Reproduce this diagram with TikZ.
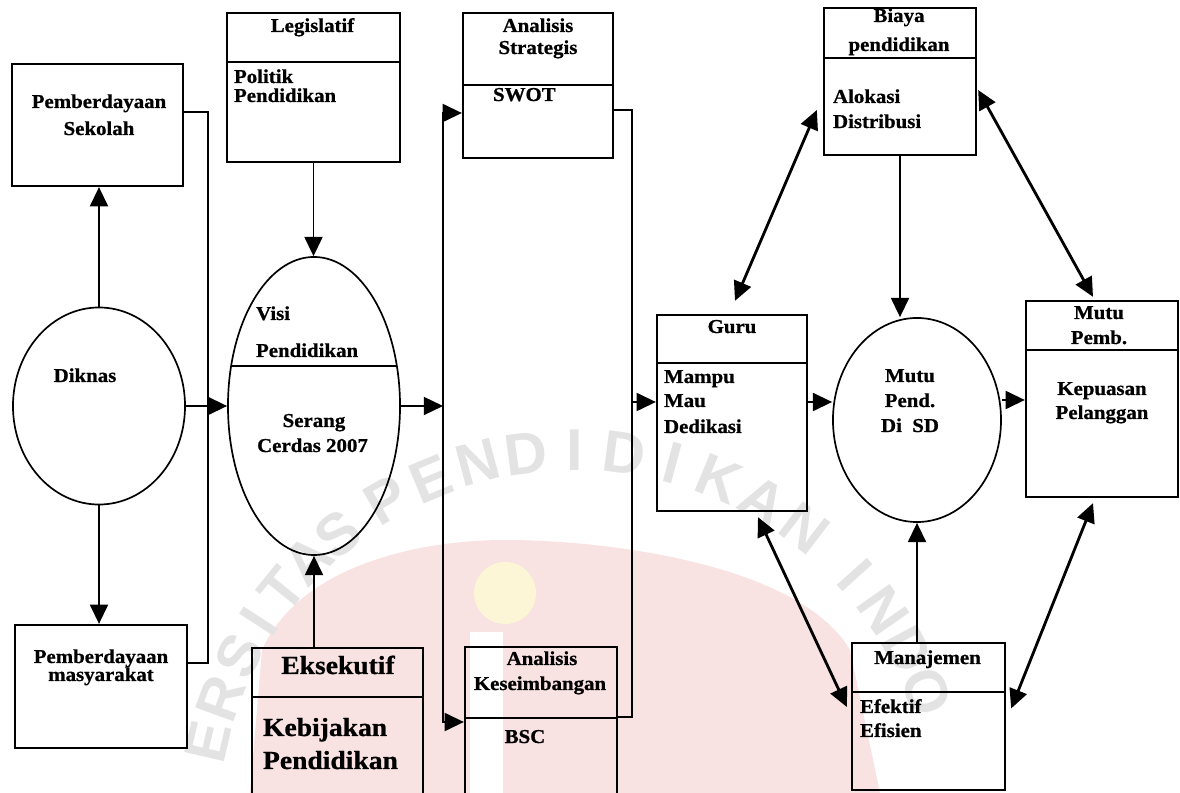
\documentclass[tikz,border=0pt]{standalone}
\usepackage{fontspec}
\newfontfamily\dfont{Liberation Serif}[FakeStretch=1.06, FakeBold=0.8]
\newfontfamily\wmfont{Liberation Sans}
\usetikzlibrary{arrows.meta,shapes.geometric,calc}
\definecolor{wmpink}{HTML}{F8E2E2}
\definecolor{wmyellow}{HTML}{FCF6D6}
\begin{document}
\begin{tikzpicture}[x=0.025cm,y=-0.025cm,
  line width=1.5pt,
  txt/.style={font=\dfont\bfseries\fontsize{14}{16}\selectfont, inner sep=0pt, anchor=base},
  ltxt/.style={txt, anchor=base west},
  bigtxt/.style={font=\dfont\bfseries\fontsize{18.5}{22}\selectfont, inner sep=0pt, anchor=base},
  lbigtxt/.style={bigtxt, anchor=base west},
  box/.style={draw, rectangle, inner sep=0pt, line width=1.6pt},
  oval/.style={draw, ellipse, inner sep=0pt, line width=1.2pt},
  tip/.tip={Triangle[length=0.48cm,width=0.45cm]},
  arr/.style={-tip, line width=1.4pt},
  darr/.style={tip-tip, line width=2pt},
  wmletter/.style={font=\wmfont\bfseries\fontsize{42}{42}\selectfont, text=black!11, inner sep=0pt},
]
\useasboundingbox (0,0) rectangle (1180,793);

% ---------- faint university seal behind the chart ----------
\fill[wmpink] (250,793) -- (262,650) .. controls (300,565) and (420,540) .. (505,540)
  .. controls (610,540) and (800,565) .. (850,650) -- (880,793) -- cycle;
\fill[white] (470,632) rectangle (503,793);
\fill[wmyellow] (505,593) circle[radius=31];
\coordinate (seal) at (575,827);
\foreach \ch/\ang [count=\i] in {E/193, R/200, S/207, I/213, T/219, A/225, S/231,
    P/240, E/247.5, N/255, D/262.5, I/270, D/277.5, I/285, K/292.5, A/300, N/307.5,
    I/318, N/325, D/332, O/339}
  \node[wmletter, rotate={-\ang-90}] (wm\i) at ($(seal)+(\ang:377)$) {\ch};

% ---------- left column: Diknas and its two empowerment boxes ----------
\node[box, minimum width=4.275cm, minimum height=3.05cm] (sek) at (97.5,125) {};
\node[txt] (sek1) at (99,108) {Pemberdayaan};
\node[txt] (sek2) at (99,135) {Sekolah};

\node[oval, minimum width=4.3cm, minimum height=4.925cm] (dik) at (99,406) {};
\node[txt] (dikt) at (85,382) {Diknas};

\node[box, minimum width=4.3cm, minimum height=3.075cm] (mas) at (101,686.5) {};
\node[txt] (mas1) at (101,663) {Pemberdayaan};
\node[txt] (mas2) at (101,681) {masyarakat};

% ---------- vision column ----------
\node[box, minimum width=4.325cm, minimum height=3.725cm] (leg) at (313.5,87.5) {};
\draw[line width=1.6pt] (leg.west |- 0,62) -- (leg.east |- 0,62);
\node[txt] (leg1) at (312.5,32) {Legislatif};
\node[ltxt] (leg2) at (233,83) {Politik};
\node[ltxt] (leg3) at (233,102) {Pendidikan};

\node[oval, minimum width=4.3cm, minimum height=7.45cm] (vis) at (314,406) {};
\draw (231.2,366) -- (396.8,366);
\node[ltxt] (vis1) at (255,320) {Visi};
\node[ltxt] (vis2) at (255,357) {Pendidikan};
\node[txt] (vis3) at (314,427) {Serang};
\node[txt] (vis4) at (312.5,452) {Cerdas 2007};

\node[box, minimum width=4.275cm, minimum height=3.8cm] (eks) at (337.5,724) {};
\draw[line width=1.6pt] (eks.west |- 0,697) -- (eks.east |- 0,697);
\node[bigtxt] (eks1) at (338,674) {Eksekutif};
\node[lbigtxt] (eks2) at (262,736) {Kebijakan};
\node[lbigtxt] (eks3) at (262,769) {Pendidikan};

% ---------- analysis column ----------
\node[box, minimum width=3.75cm, minimum height=3.625cm] (aS) at (538,85.5) {};
\draw[line width=1.6pt] (aS.west |- 0,85) -- (aS.east |- 0,85);
\node[txt] (aS1) at (538,32) {Analisis};
\node[txt] (aS2) at (538,54) {Strategis};
\node[ltxt] (aS3) at (492,101) {SWOT};

\node[box, minimum width=3.8cm, minimum height=3.825cm] (aK) at (541,723.5) {};
\draw[line width=1.6pt] (aK.west |- 0,718) -- (aK.east |- 0,718);
\node[txt] (aK1) at (542,665) {Analisis};
\node[txt] (aK2) at (540,690) {Keseimbangan};
\node[txt] (aK3) at (525,743) {BSC};

% ---------- quality column ----------
\node[box, minimum width=3.75cm, minimum height=4.9cm] (guru) at (732,413) {};
\draw[line width=1.6pt] (guru.west |- 0,363) -- (guru.east |- 0,363);
\node[txt] (guru1) at (732,333) {Guru};
\node[ltxt] (guru2) at (663,383) {Mampu};
\node[ltxt] (guru3) at (663,407) {Mau};
\node[ltxt] (guru4) at (663,433) {Dedikasi};

\node[box, minimum width=3.8cm, minimum height=3.675cm] (bia) at (900,81.5) {};
\draw[line width=1.6pt] (bia.west |- 0,58) -- (bia.east |- 0,58);
\node[txt] (bia1) at (899,22) {Biaya};
\node[txt] (bia2) at (899,51) {pendidikan};
\node[ltxt] (bia3) at (832,103) {Alokasi};
\node[ltxt] (bia4) at (832,128) {Distribusi};

\node[oval, minimum width=4.2cm, minimum height=5.1cm] (mutu) at (917,420) {};
\node[txt] (mutu1) at (910,382) {Mutu};
\node[txt] (mutu2) at (910,407) {Pend.};
\node[txt] (mutu3) at (910,432) {Di\ \ SD};

\node[box, minimum width=3.825cm, minimum height=3.675cm] (man) at (928.5,716.5) {};
\draw[line width=1.6pt] (man.west |- 0,692) -- (man.east |- 0,692);
\node[txt] (man1) at (927.5,664) {Manajemen};
\node[ltxt] (man2) at (859,713) {Efektif};
\node[ltxt] (man3) at (859,737) {Efisien};

\node[box, minimum width=3.8cm, minimum height=4.9cm] (mp) at (1102,399) {};
\draw[line width=1.6pt] (mp.west |- 0,350) -- (mp.east |- 0,350);
\node[txt] (mp1) at (1099,319) {Mutu};
\node[txt] (mp2) at (1099,344) {Pemb.};
\node[txt] (mp3) at (1102,395) {Kepuasan};
\node[txt] (mp4) at (1102,419) {Pelanggan};

% ---------- connectors ----------
\coordinate (jl) at (208,406);
\coordinate (jv) at (443,406);
\coordinate (jg) at (632,402);

\draw[arr] (dik.north) -- (dik.north |- sek.south);
\draw[arr] (dik.south) -- (dik.south |- mas.north);
\draw[line width=1.4pt] (sek.east |- 0,112) -| (jl) |- (mas.east |- 0,663);
\draw[arr] (dik.east) -- (vis.west);

\draw[arr] (leg.south) -- (leg.south |- vis.north);
\draw[arr] (vis.south |- eks.north) -- (vis.south);
\draw[arr] (vis.east) -- (jv);
\draw[arr] (jv) |- (aS.west |- 0,113);
\draw[arr] (jv) |- (aK.west |- 0,722);

\draw[line width=1.4pt] (aS.east |- 0,110) -| (jg) |- (aK.east |- 0,717);
\draw[arr] (jg) -- (guru.west |- jg);
\draw[arr] (guru.east |- 0,402) -- (mutu.west |- 0,402);

\draw[arr] (bia.south) -- (bia.south |- mutu.north);
\draw[arr] (mutu.south |- man.north) -- (mutu.south);
\draw[arr] (mutu.east |- 0,400) -- (mp.west |- 0,400);

\draw[darr] ($(guru.north)+(3,-13)$) -- ($(bia.west)+(-6,28.5)$);
\draw[darr] ($(bia.east)+(1,8.5)$) -- ($(mp.north)+(-9,-3)$);
\draw[darr] ($(guru.south)+(26,5)$) -- ($(man.west)+(-4,-9.5)$);
\draw[darr] ($(man.east)+(5,-8)$) -- ($(mp.south)+(-9,5)$);
\end{tikzpicture}
\end{document}
